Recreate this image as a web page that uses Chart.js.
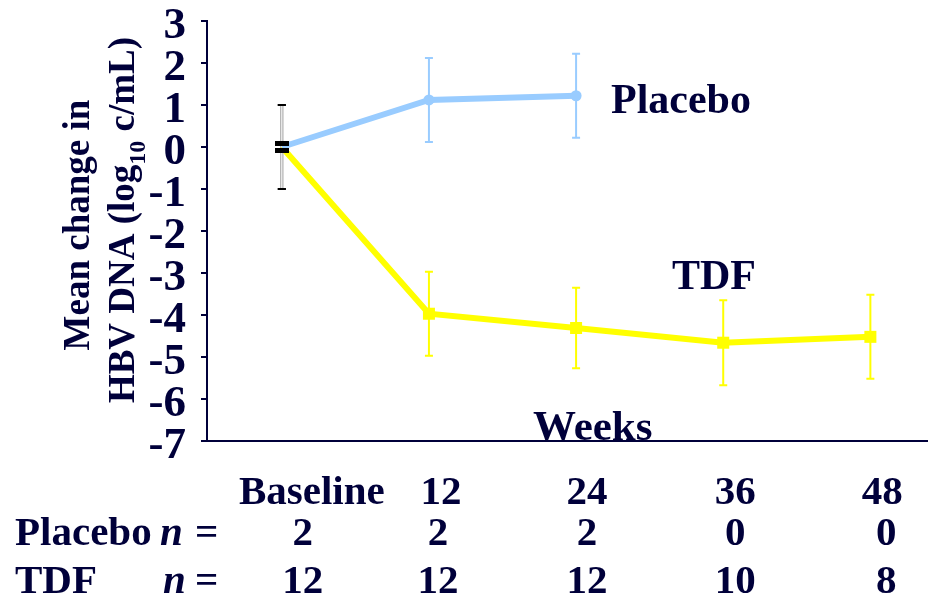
<!DOCTYPE html>
<html>
<head>
<meta charset="utf-8">
<script src="https://cdn.jsdelivr.net/npm/chart.js@4.4.0/dist/chart.umd.min.js"></script>
<style>
	html, body { margin: 0; padding: 0; background: #fff; }
	#wrap { width: 928px; height: 598px; position: relative; }
</style>
</head>
<body>
<div id="wrap"><canvas id="hbv-chart"></canvas></div>
<script>
// data
var weeks = [0, 12, 24, 36, 48];
var weekLabels = ['Baseline', '12', '24', '36', '48'];
var placeboMean = [0, 1.12, 1.22];
var placeboErr = [1.0, 1.0, 1.0];
var tdfMean = [0, -3.97, -4.31, -4.66, -4.52];
var tdfErr = [1.0, 1.0, 0.96, 1.01, 1.0];
var placeboN = [2, 2, 2, 0, 0];
var tdfN = [12, 12, 12, 10, 8];
var yMin = -7, yMax = 3;

var navy = '#00003a';
var serif = '"Liberation Serif", "Times New Roman", serif';

// baseline marker: two stacked black dashes
var baseMark = document.createElement('canvas');
baseMark.width = 14; baseMark.height = 12;
(function () {
	var c = baseMark.getContext('2d');
	c.fillStyle = '#000';
	c.fillRect(0, 0, 14, 5);
	c.fillRect(0, 7, 14, 5);
})();

function toPoints(mean) {
	return mean.map(function (v, i) { return {x: weeks[i], y: v}; });
}

var errorBars = {
	id: 'errorBars',
	beforeDatasetsDraw: function (chart) {
		var ctx = chart.ctx, xs = chart.scales.x, ys = chart.scales.y;
		var sets = [
			{mean: tdfMean, err: tdfErr, color: '#ffff00'},
			{mean: placeboMean, err: placeboErr, color: '#99ccff'}
		];
		ctx.save();
		sets.forEach(function (s) {
			s.mean.forEach(function (v, i) {
				var x = xs.getPixelForValue(weeks[i]);
				var top = ys.getPixelForValue(v + s.err[i]);
				var bot = ys.getPixelForValue(v - s.err[i]);
				if (i === 0) {
					ctx.strokeStyle = '#b0b0b0'; ctx.lineWidth = 3;
					ctx.beginPath(); ctx.moveTo(x, top); ctx.lineTo(x, bot); ctx.stroke();
					ctx.strokeStyle = '#ffffff'; ctx.lineWidth = 1;
					ctx.beginPath(); ctx.moveTo(x, top); ctx.lineTo(x, bot); ctx.stroke();
					ctx.strokeStyle = '#000'; ctx.lineWidth = 2;
					ctx.beginPath();
					ctx.moveTo(x - 4, top); ctx.lineTo(x + 4, top);
					ctx.moveTo(x - 4, bot); ctx.lineTo(x + 4, bot);
					ctx.stroke();
					return;
				}
				ctx.strokeStyle = s.color; ctx.lineWidth = 2;
				ctx.beginPath();
				ctx.moveTo(x, top); ctx.lineTo(x, bot);
				ctx.moveTo(x - 4, top); ctx.lineTo(x + 4, top);
				ctx.moveTo(x - 4, bot); ctx.lineTo(x + 4, bot);
				ctx.stroke();
			});
		});
		ctx.restore();
	}
};

var slideText = {
	id: 'slideText',
	afterDraw: function (chart) {
		var ctx = chart.ctx, xs = chart.scales.x, area = chart.chartArea;
		ctx.save();
		ctx.fillStyle = navy;
		ctx.textBaseline = 'alphabetic';

		// y title, rotated, with subscript
		ctx.save();
		ctx.translate(89, 225);
		ctx.rotate(-Math.PI / 2);
		ctx.font = 'bold 37px ' + serif;
		ctx.textAlign = 'center';
		ctx.fillText('Mean change in', 0, 0);
		ctx.restore();

		ctx.save();
		ctx.translate(134, 220);
		ctx.rotate(-Math.PI / 2);
		var big = 'bold 37px ' + serif, small = 'bold 24px ' + serif;
		ctx.font = big; var w1 = ctx.measureText('HBV DNA (log').width;
		var w3 = ctx.measureText(' c/mL)').width;
		ctx.font = small; var w2 = ctx.measureText('10').width;
		var x0 = -(w1 + w2 + w3) / 2;
		ctx.textAlign = 'left';
		ctx.font = big; ctx.fillText('HBV DNA (log', x0, 0);
		ctx.font = small; ctx.fillText('10', x0 + w1, 11);
		ctx.font = big; ctx.fillText(' c/mL)', x0 + w1 + w2, 0);
		ctx.restore();

		// series names
		ctx.font = 'bold 42px ' + serif;
		ctx.textAlign = 'left';
		ctx.fillText('Placebo', 611, 113);
		ctx.fillText('TDF', 672, 289);
		ctx.font = 'bold 43px ' + serif;
		ctx.fillText('Weeks', 533, area.bottom - 1);

		// week labels and n rows
		ctx.font = 'bold 41px ' + serif;
		ctx.textAlign = 'center';
		var labelShift = [30, 12, 11, 12, 12];
		var nShift = [21, 9, 11, 12, 16];
		weeks.forEach(function (wk, i) {
			var x = xs.getPixelForValue(wk);
			ctx.fillText(weekLabels[i], x + labelShift[i], 504);
			ctx.fillText(String(placeboN[i]), x + nShift[i], 545);
			ctx.fillText(String(tdfN[i]), x + nShift[i], 593);
		});

		ctx.textAlign = 'left';
		ctx.fillText('Placebo', 15, 545);
		ctx.fillText('TDF', 15, 593);
		ctx.fillText('=', 195, 545);
		ctx.fillText('=', 195, 593);
		ctx.font = 'italic bold 41px ' + serif;
		ctx.fillText('n', 160, 545);
		ctx.fillText('n', 163, 593);
		ctx.restore();
	}
};

new Chart('hbv-chart', {
	type: 'line',
	data: {
		datasets: [
			{
				label: 'Placebo',
				data: toPoints(placeboMean),
				borderColor: '#99ccff',
				backgroundColor: '#99ccff',
				borderWidth: 6,
				pointStyle: [baseMark, 'circle', 'circle'],
				pointRadius: 5.5,
				pointBackgroundColor: '#99ccff',
				pointBorderWidth: 0,
				tension: 0
			},
			{
				label: 'TDF',
				data: toPoints(tdfMean),
				borderColor: '#ffff00',
				backgroundColor: '#ffff00',
				borderWidth: 6,
				pointStyle: [baseMark, 'rect', 'rect', 'rect', 'rect'],
				pointRadius: 8.5,
				pointBackgroundColor: '#ffff00',
				pointBorderWidth: 0,
				tension: 0
			}
		]
	},
	options: {
		responsive: true,
		maintainAspectRatio: false,
		animation: false,
		devicePixelRatio: 1,
		layout: { autoPadding: false, padding: { top: 21, right: 0, bottom: 0, left: 0 } },
		plugins: { legend: { display: false }, tooltip: { enabled: false } },
		scales: {
			x: {
				type: 'linear',
				min: -6.1,
				max: 52.7,
				ticks: { display: false },
				grid: { display: false },
				border: { display: true, color: navy, width: 2 },
				afterFit: function (scale) {
					scale.height = 157;
					scale.paddingLeft = 0; scale.paddingRight = 0;
				}
			},
			y: {
				min: yMin,
				max: yMax,
				ticks: {
					stepSize: 1,
					autoSkip: false,
					color: navy,
					font: { family: serif, size: 45, weight: 'bold' },
					padding: 15,
					labelOffset: 5
				},
				grid: { drawOnChartArea: false, drawTicks: true, tickLength: 6, color: navy, lineWidth: 2 },
				border: { display: true, color: navy, width: 2 },
				afterFit: function (scale) {
					scale.width = 207;
					scale.paddingTop = 0; scale.paddingBottom = 0;
				}
			}
		}
	},
	plugins: [errorBars, slideText]
});
</script>
</body>
</html>
